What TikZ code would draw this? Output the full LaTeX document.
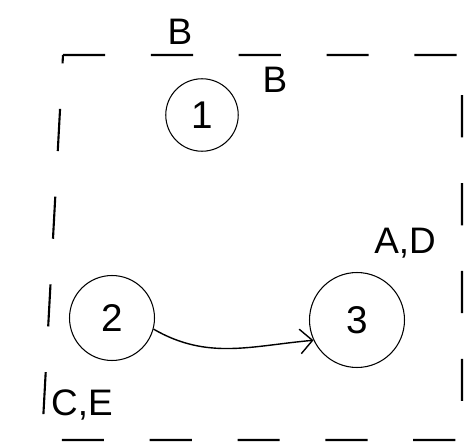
\documentclass[tikz,border=0pt]{standalone}
\usepackage{fontspec}
\setmainfont{Liberation Sans}
\usetikzlibrary{arrows.meta}
\begin{document}
\begin{tikzpicture}[x=0.02cm,y=-0.02cm,
    state/.style={draw,semithick,circle,minimum size=1.55cm,font=\fontsize{22}{24}\selectfont},
    tag/.style={font=\fontsize{21}{23}\selectfont}]
      \useasboundingbox (0,0) rectangle (467,446);

      % Dashed boundary
      \draw[very thick,dash pattern=on 24pt off 26pt] (63,55)--(462,55)--(462,440)--(42,440)--cycle;

      % States
      \node[state,minimum size=1.45cm] (n1) at (202,115) {1};
      \node[state,minimum size=1.7cm] (n2) at (112,318) {2};
      \node[state,minimum size=1.9cm] (n3) at (357,320) {3};

      % Labels
      \node[tag] (lblTop) at (180,32) {B};
      \node[tag] (lblB) at (275,80) {B};
      \node[tag] (lblAD) at (405,243) {A,D};
      \node[tag] (lblCE) at (82,405) {C,E};

      \draw[thick,-{Straight Barb[length=7pt]}] (n2.-15) to[out=-30,in=185] (n3.205);
\end{tikzpicture}
\end{document}
